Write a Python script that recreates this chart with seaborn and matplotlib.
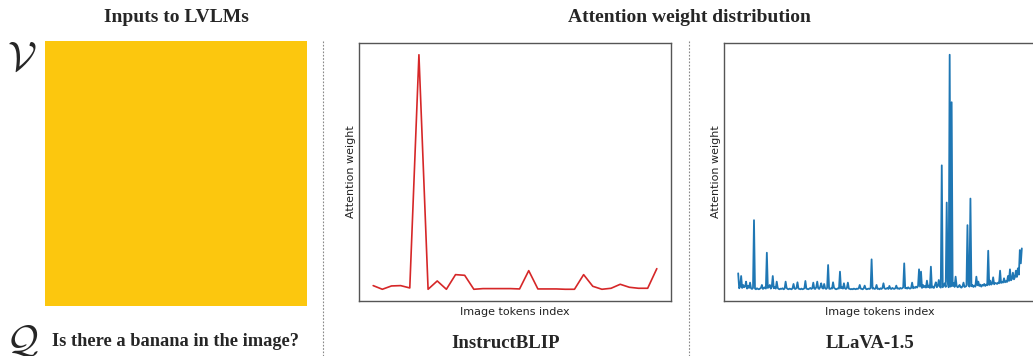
import matplotlib
matplotlib.use("Agg")
import matplotlib.pyplot as plt
import seaborn as sns
import pandas as pd

# ---------------- data ----------------
question = "Is there a banana in the image?"
model_names = ["InstructBLIP", "LLaVA-1.5"]
section_titles = ["Inputs to LVLMs", "Attention weight distribution"]
image_color = "#FCC70E"

# InstructBLIP: 32 query tokens (relative attention weight)
instructblip_attn = [
    0.012, 0.0065, 0.0115, 0.012, 0.0085, 0.359, 0.0065, 0.019,
    0.0065, 0.0285, 0.0275, 0.0065, 0.0075, 0.0075, 0.0075, 0.0075,
    0.007, 0.0345, 0.007, 0.007, 0.007, 0.0065, 0.0065, 0.0285,
    0.011, 0.0065, 0.008, 0.014, 0.0095, 0.008, 0.008, 0.0375,
]

# LLaVA-1.5: image tokens (relative attention weight, a.u.)
llava_attn = [
    7.0, 2.5, 3.0, 6.2, 2.6, 3.5, 2.8, 3.0, 4.5, 2.4, 3.2, 2.6,
    4.2, 2.5, 2.3, 2.6, 23.0, 2.4, 2.2, 2.5, 2.3, 2.2, 2.4, 2.6,
    3.5, 2.3, 2.5, 2.8, 2.4, 13.2, 2.6, 2.9, 3.5, 2.4, 3.0, 6.2,
    2.5, 2.8, 2.4, 4.5, 2.6, 2.3, 2.2, 2.4, 2.3, 2.5, 2.2, 2.4,
    4.5, 2.6, 2.3, 2.2, 2.4, 2.3, 2.2, 2.5, 3.8, 2.4, 2.3, 2.6,
    4.3, 2.4, 2.3, 2.2, 2.4, 2.2, 2.3, 2.5, 4.7, 2.4, 2.3, 2.2,
    2.4, 2.6, 2.3, 2.5, 4.2, 2.4, 2.3, 2.8, 4.5, 2.5, 2.3, 2.9,
    4.0, 2.6, 2.4, 3.8, 2.5, 2.3, 2.6, 9.5, 2.4, 2.3, 2.5, 2.4,
    4.3, 2.6, 2.4, 2.2, 2.3, 2.5, 2.4, 7.5, 2.5, 2.8, 2.4, 4.0,
    2.5, 2.3, 2.6, 4.2, 2.4, 2.3, 2.2, 2.3, 2.2, 2.4, 2.3, 2.2,
    2.4, 2.3, 2.5, 3.5, 2.4, 2.3, 2.2, 2.5, 3.3, 2.4, 2.2, 2.3,
    2.4, 2.3, 2.6, 11.2, 2.4, 2.5, 2.3, 2.4, 3.5, 2.3, 2.4, 2.2,
    2.5, 2.3, 2.6, 4.0, 2.5, 2.3, 2.4, 2.6, 2.3, 3.2, 2.4, 2.3,
    2.6, 2.4, 2.3, 2.5, 3.3, 2.4, 2.5, 2.3, 2.6, 2.4, 2.5, 2.8,
    10.0, 2.5, 2.6, 2.4, 2.8, 2.5, 2.4, 2.6, 4.2, 2.5, 2.8, 2.6,
    3.0, 2.7, 3.2, 8.2, 3.0, 7.5, 2.6, 3.5, 2.8, 3.2, 2.7, 4.8,
    2.8, 3.3, 2.6, 9.0, 2.7, 3.0, 2.6, 3.4, 4.3, 2.8, 3.2, 5.0,
    3.0, 2.7, 39.5, 2.8, 3.4, 4.0, 2.9, 28.3, 4.5, 2.8, 72.8, 3.0,
    58.5, 3.2, 4.0, 2.9, 6.0, 3.3, 2.8, 3.0, 3.5, 2.8, 2.7, 3.1,
    4.2, 2.9, 3.0, 3.2, 21.5, 3.5, 3.0, 29.5, 3.1, 3.5, 2.9, 3.3,
    3.0, 6.0, 3.4, 4.5, 3.2, 3.6, 3.0, 3.5, 3.3, 3.8, 3.2, 3.6,
    3.4, 13.8, 3.5, 4.8, 3.6, 3.9, 5.8, 3.7, 4.1, 4.0, 3.8, 4.2,
    4.0, 7.8, 4.1, 4.4, 4.2, 5.5, 4.3, 4.6, 4.4, 6.2, 4.7, 8.2,
    4.9, 5.3, 7.2, 5.2, 5.8, 7.8, 5.9, 8.5, 6.6, 14.0, 10.0, 14.5,
]

# ---------------- figure ----------------
sns.set_theme(style="white")
plt.rcParams["font.family"] = ["DejaVu Sans"]

W, H = 1033, 356
fig = plt.figure(figsize=(W / 100, H / 100), dpi=100)


def px_axes(x0, y0, x1, y1):
    return fig.add_axes([x0 / W, 1 - y1 / H, (x1 - x0) / W, (y1 - y0) / H])


serif_bold = dict(family="Liberation Serif", fontweight="bold", fontsize=13.5)

# section titles
fig.text(176 / W, 1 - 17 / H, section_titles[0], ha="center", va="center",
         family="Liberation Serif", fontweight="bold", fontsize=14)
fig.text(689 / W, 1 - 17 / H, section_titles[1], ha="center", va="center",
         family="Liberation Serif", fontweight="bold", fontsize=14)

# input image (solid yellow)
ax_img = px_axes(45, 41, 307, 306)
ax_img.set_facecolor(image_color)
ax_img.set_xticks([])
ax_img.set_yticks([])
for s in ax_img.spines.values():
    s.set_visible(False)

# calligraphic V and Q
plt.rcParams["mathtext.fontset"] = "cm"
fig.text(22 / W, 1 - 58 / H, r"$\mathcal{V}$", ha="center", va="center", fontsize=30)
fig.text(22 / W, 1 - 341 / H, r"$\mathcal{Q}$", ha="center", va="center", fontsize=28)
fig.text(175 / W, 1 - 341 / H, question, ha="center", va="center",
         family="Liberation Serif", fontweight="bold", fontsize=13.2)

# dotted separators
for xs in (323, 689):
    fig.add_artist(plt.Line2D([xs / W, xs / W], [0, 1 - 40 / H], transform=fig.transFigure,
                              color="#888888", lw=0.8, ls=(0, (1.5, 1.5))))

# attention plots
df1 = pd.DataFrame({"idx": range(len(instructblip_attn)), "w": instructblip_attn})
df2 = pd.DataFrame({"idx": range(len(llava_attn)), "w": llava_attn})

ax1 = px_axes(359, 43, 671, 301)
sns.lineplot(data=df1, x="idx", y="w", ax=ax1, color="#d62728", lw=1.2)
ax2 = px_axes(724, 43, 1036, 301)
sns.lineplot(data=df2, x="idx", y="w", ax=ax2, color="#1f77b4", lw=1.3)

for ax in (ax1, ax2):
    ax.set_xticks([])
    ax.set_yticks([])
    ax.margins(0.05)
    ax.set_xlabel("Image tokens index", fontsize=8, color="#222222", labelpad=4)
    ax.set_ylabel("Attention weight", fontsize=8, color="#222222", labelpad=2.5)
    for s in ax.spines.values():
        s.set_visible(True)
        s.set_color("#555555")
        s.set_linewidth(1.0)

fig.text(506 / W, 1 - 343 / H, model_names[0], ha="center", va="center", **serif_bold)
fig.text(870 / W, 1 - 343 / H, model_names[1], ha="center", va="center", **serif_bold)

fig.savefig("out.png", dpi=100, facecolor="white")
